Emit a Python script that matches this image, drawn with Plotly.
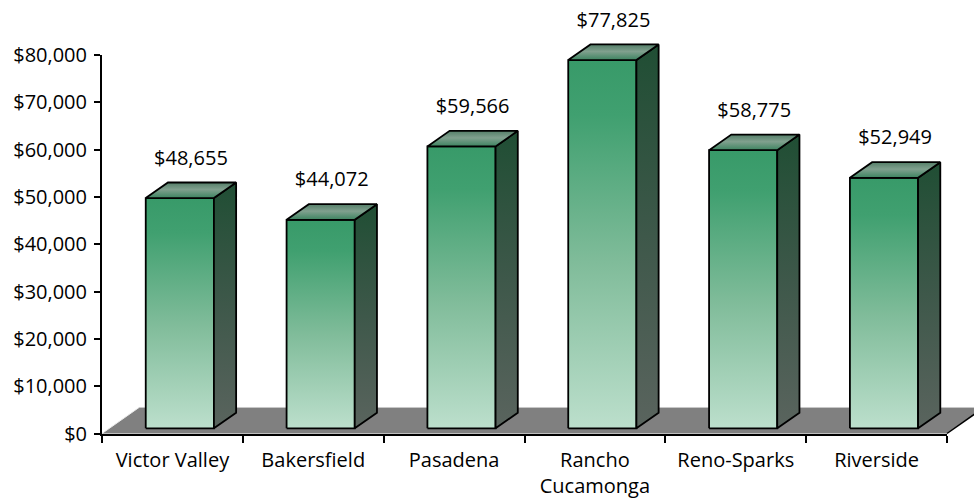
import plotly.graph_objects as go

# ---- data ----
cities = ["Victor Valley", "Bakersfield", "Pasadena", "Rancho<br>Cucamonga", "Reno-Sparks", "Riverside"]
values = [48655, 44072, 59566, 77825, 58775, 52949]
y_tick_values = [0, 10000, 20000, 30000, 40000, 50000, 60000, 70000, 80000]
y_tick_labels = ["$0", "$10,000", "$20,000", "$30,000", "$40,000", "$50,000", "$60,000", "$70,000", "$80,000"]
value_labels = ["$48,655", "$44,072", "$59,566", "$77,825", "$58,775", "$52,949"]

# ---- page / axes geometry ----
W, H = 974, 502
X_DOM = [102 / W, 947 / W]
Y_DOM = [(H - 433.5) / H, (H - 55) / H]
X_RANGE = [-0.5, len(cities) - 0.5]
Y_RANGE = [0, 80000]


def full_range(rng, dom):
    """Range for a full-page axis that lines up with an axis of range rng on domain dom."""
    span = (rng[1] - rng[0]) / (dom[1] - dom[0])
    lo = rng[0] - dom[0] * span
    return [lo, lo + span]


# oblique depth vector of the floor (category units, dollars) and bar placement
DX, DY = 0.263, 5500
HALF = 0.242
Z_FRONT, Z_BACK = 0.2, 0.8
LABEL_GAP = 4800

FONT = "Open Sans"
OUTLINE = dict(color="black", width=1.8)

FRONT_SCALE = [[0, "rgb(188,223,204)"], [0.45, "rgb(128,188,154)"],
               [0.85, "rgb(64,160,112)"], [1, "rgb(56,154,105)"]]
SIDE_SCALE = [[0, "rgb(90,100,94)"], [0.5, "rgb(62,88,74)"], [1, "rgb(32,78,52)"]]
TOP_SCALE = [[0, "rgb(60,132,96)"], [0.55, "rgb(128,160,142)"], [1, "rgb(84,126,104)"]]

fig = go.Figure()


def polygon(xs, ys, scale=None, fill=None, line=None):
    kw = dict(x=xs + [xs[0]], y=ys + [ys[0]], mode="lines", fill="toself",
              line=line or dict(width=0, color="rgba(0,0,0,0)"),
              hoverinfo="skip", showlegend=False)
    if scale is not None:
        kw["fillgradient"] = dict(type="vertical", colorscale=scale)
    else:
        kw["fillcolor"] = fill
    fig.add_trace(go.Scatter(**kw))


def segment(xs, ys, color, width, **extra):
    fig.add_trace(go.Scatter(x=xs, y=ys, mode="lines", line=dict(color=color, width=width),
                             hoverinfo="skip", showlegend=False, **extra))


# floor
x0, x1 = X_RANGE
polygon([x0, x1, x1 + DX, x0 + DX], [0, 0, DY, DY], fill="rgb(128,128,128)")
segment([x0 + DX, x1 + DX], [DY, DY], "rgb(200,200,200)", 1)
segment([x1, x1 + DX], [0, DY], "black", 1.5)

# bars: front, side and top faces
fx, fy = Z_FRONT * DX, Z_FRONT * DY
bx, by = Z_BACK * DX, Z_BACK * DY
for i, v in enumerate(values):
    l, r = i - HALF, i + HALF
    polygon([l + fx, r + fx, r + fx, l + fx], [fy, fy, v + fy, v + fy], FRONT_SCALE, line=OUTLINE)
    polygon([r + fx, r + bx, r + bx, r + fx], [fy, by, v + by, v + fy], SIDE_SCALE, line=OUTLINE)
    polygon([l + fx, r + fx, r + bx, l + bx], [v + fy, v + fy, v + by, v + by], TOP_SCALE, line=OUTLINE)

# value labels
fig.add_trace(go.Scatter(
    x=[i + 0.5 * DX for i in range(len(values))],
    y=[v + Z_BACK * DY + LABEL_GAP for v in values],
    mode="text", text=value_labels, textposition="middle center",
    textfont=dict(family=FONT, size=20, color="black"),
    hoverinfo="skip", showlegend=False))

# left (wall) edge of the floor, drawn on the visible axes
segment([x0, x0 + DX], [0, DY], "rgb(235,235,235)", 1, xaxis="x2", yaxis="y2")

axis_font = dict(family=FONT, size=20, color="black")
fig.update_layout(
    width=W, height=H,
    margin=dict(l=0, r=0, t=0, b=0),
    paper_bgcolor="white", plot_bgcolor="rgba(0,0,0,0)",
    hovermode=False,
    # full-page canvas for the marks
    xaxis=dict(domain=[0, 1], range=full_range(X_RANGE, X_DOM), visible=False, fixedrange=True),
    yaxis=dict(domain=[0, 1], range=full_range(Y_RANGE, Y_DOM), visible=False, fixedrange=True),
    # visible category axis: labels at centres, tick marks at boundaries
    xaxis2=dict(domain=X_DOM, range=X_RANGE, anchor="y2", showgrid=False, zeroline=False,
                showline=True, linecolor="black", linewidth=2,
                tickmode="array", tickvals=list(range(len(cities))), ticktext=cities,
                ticks="outside", ticklen=7, tickcolor="rgba(0,0,0,0)",
                minor=dict(tickmode="array", tickvals=[k - 0.5 for k in range(len(cities) + 1)],
                           ticks="outside", ticklen=7, tickwidth=2, tickcolor="black",
                           showgrid=False),
                tickfont=axis_font, automargin=False, fixedrange=True),
    # visible value axis
    yaxis2=dict(domain=Y_DOM, range=Y_RANGE, anchor="x2", showgrid=False, zeroline=False,
                showline=True, linecolor="black", linewidth=2,
                tickmode="array", tickvals=y_tick_values, ticktext=y_tick_labels,
                ticks="outside", ticklen=6, tickwidth=2, tickcolor="black",
                ticklabelstandoff=3,
                tickfont=axis_font, automargin=False, fixedrange=True),
)

fig.write_html("out.html")
